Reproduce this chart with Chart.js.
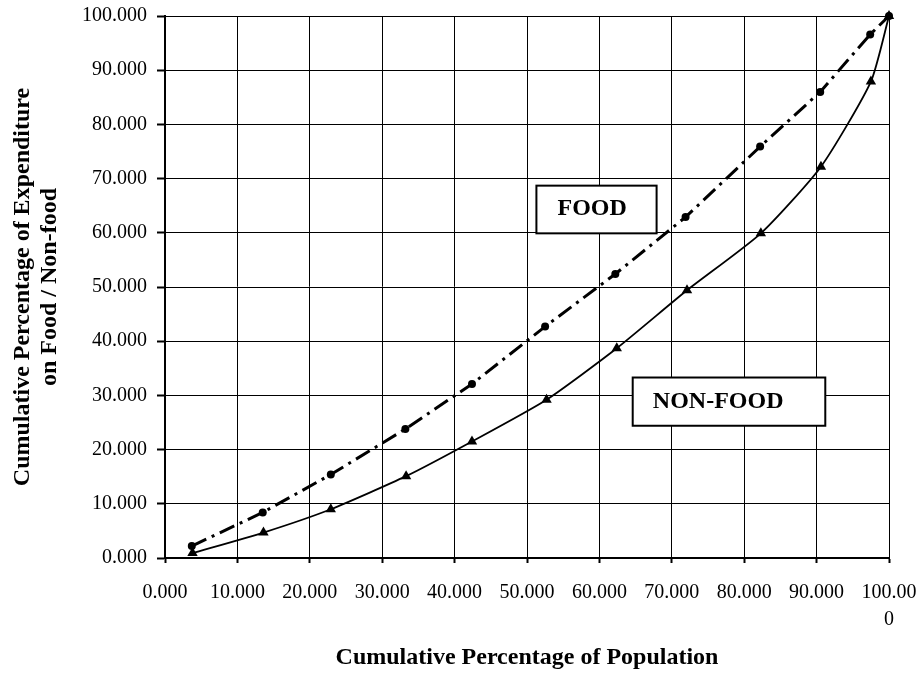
<!DOCTYPE html>
<html>
<head>
<meta charset="utf-8">
<title>Cumulative Percentage of Expenditure on Food / Non-food</title>
<script src="https://cdn.jsdelivr.net/npm/chart.js@4.4.1/dist/chart.umd.min.js"></script>
<style>
    html, body { margin: 0; padding: 0; background: #fff; }
    canvas { display: block; }
</style>
</head>
<body>
<canvas id="lorenzChart" width="921" height="675"></canvas>
<script>
// values
const populationFood = [3.7, 13.5, 22.9, 33.2, 42.4, 52.5, 62.2, 71.9, 82.2, 90.5, 97.4, 100];
const expenditureFood = [2.2, 8.4, 15.4, 23.8, 32.1, 42.7, 52.4, 62.9, 75.9, 86.0, 96.6, 100];
const populationNonFood = [3.8, 13.6, 22.9, 33.3, 42.4, 52.7, 62.4, 72.1, 82.3, 90.6, 97.5, 100];
const expenditureNonFood = [0.9, 4.7, 9.0, 15.1, 21.5, 29.2, 38.7, 49.4, 59.9, 72.2, 87.9, 100];
const seriesNames = ["FOOD", "NON-FOOD"];

const xTitle = "Cumulative Percentage of Population";
const yTitle = ["Cumulative Percentage of Expenditure", "on Food / Non-food"];

// boxed labels, placed in data units so they follow the scales
const calloutBoxes = [
    { text: seriesNames[0], left: 51.3, right: 67.9, top: 68.7, bottom: 59.9, cx: 59.0, cy: 64.4 },
    { text: seriesNames[1], left: 64.6, right: 91.2, top: 33.3, bottom: 24.4, cx: 76.4, cy: 28.9 }
];

const FONT = "'Liberation Serif', 'Times New Roman', serif";
Chart.defaults.font.family = FONT;
Chart.defaults.color = "#000";

function toPoints(xs, ys) {
    return xs.map((x, i) => ({ x: x, y: ys[i] }));
}

const calloutPlugin = {
    id: "callouts",
    afterDraw(chart) {
        const ctx = chart.ctx;
        const xs = chart.scales.x;
        const ys = chart.scales.y;
        ctx.save();
        calloutBoxes.forEach(b => {
            const l = xs.getPixelForValue(b.left);
            const r = xs.getPixelForValue(b.right);
            const t = ys.getPixelForValue(b.top);
            const btm = ys.getPixelForValue(b.bottom);
            ctx.fillStyle = "#fff";
            ctx.fillRect(l, t, r - l, btm - t);
            ctx.lineWidth = 2;
            ctx.strokeStyle = "#000";
            ctx.strokeRect(l, t, r - l, btm - t);
            ctx.fillStyle = "#000";
            ctx.font = "bold 24px " + FONT;
            ctx.textAlign = "center";
            ctx.textBaseline = "middle";
            ctx.fillText(b.text, xs.getPixelForValue(b.cx), ys.getPixelForValue(b.cy));
        });
        ctx.restore();
    }
};

const ctx = document.getElementById("lorenzChart").getContext("2d");

new Chart(ctx, {
    type: "scatter",
    data: {
        datasets: [
            {
                label: seriesNames[0],
                data: toPoints(populationFood, expenditureFood),
                showLine: true,
                borderColor: "#000",
                borderWidth: 3,
                borderDash: [16, 6, 3, 6],
                backgroundColor: "#000",
                pointStyle: "circle",
                pointRadius: 4,
                pointBorderWidth: 0,
                tension: 0,
                clip: false
            },
            {
                label: seriesNames[1],
                data: toPoints(populationNonFood, expenditureNonFood),
                showLine: true,
                borderColor: "#000",
                borderWidth: 1.8,
                backgroundColor: "#000",
                pointStyle: "triangle",
                pointRadius: 6,
                pointBorderWidth: 0,
                tension: 0.2,
                clip: false
            }
        ]
    },
    options: {
        responsive: false,
        animation: false,
        devicePixelRatio: 1,
        layout: {
            padding: { top: 16, right: 32, bottom: 0, left: 0 }
        },
        plugins: {
            legend: { display: false },
            tooltip: { enabled: false }
        },
        scales: {
            x: {
                type: "linear",
                min: 0,
                max: 100,
                afterFit(scale) {
                    scale.height = 117;
                    scale.paddingLeft = 0;
                    scale.paddingRight = 0;
                },
                ticks: {
                    stepSize: 10,
                    padding: 16,
                    maxRotation: 0,
                    autoSkip: false,
                    font: { size: 20, lineHeight: 1.35 },
                    callback: (value) => value === 100 ? ["100.00", "0"] : value.toFixed(3)
                },
                grid: { color: "#000", lineWidth: 1, tickLength: 5, tickWidth: 2, tickColor: "#000" },
                border: { color: "#000", width: 2 },
                title: {
                    display: true,
                    text: xTitle,
                    font: { size: 24, weight: "bold", lineHeight: 1.2 },
                    padding: { top: 0, bottom: 3 }
                }
            },
            y: {
                type: "linear",
                min: 0,
                max: 100,
                afterFit(scale) {
                    scale.width = 165;
                    scale.paddingTop = 0;
                    scale.paddingBottom = 0;
                },
                ticks: {
                    stepSize: 10,
                    padding: 10,
                    font: { size: 20 },
                    callback: (value) => value.toFixed(3)
                },
                grid: { color: "#000", lineWidth: 1, tickLength: 8, tickWidth: 2, tickColor: "#000" },
                border: { color: "#000", width: 2 },
                title: {
                    display: true,
                    text: yTitle,
                    font: { size: 24, weight: "bold", lineHeight: 1.1 },
                    padding: { top: 10, bottom: 0 }
                }
            }
        }
    },
    plugins: [calloutPlugin]
});
</script>
</body>
</html>
